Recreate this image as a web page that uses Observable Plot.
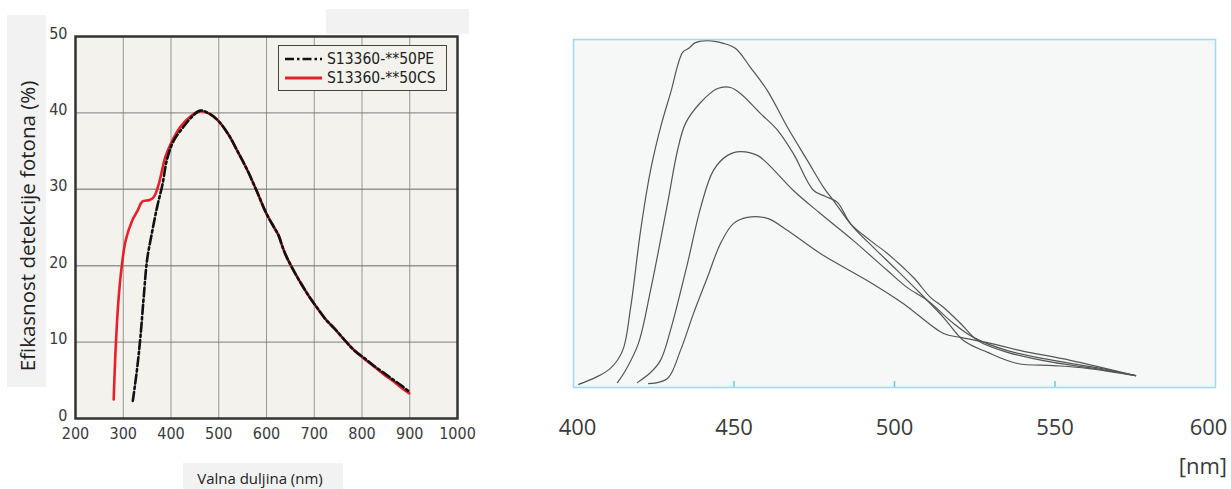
<!DOCTYPE html>
<html>
<head>
<meta charset="utf-8">
<script src="https://cdn.jsdelivr.net/npm/d3@7"></script>
<script src="https://cdn.jsdelivr.net/npm/@observablehq/plot@0.6"></script>
<style>
  html, body { margin: 0; padding: 0; background: #fff; }
  #page { position: relative; width: 1231px; height: 489px; overflow: hidden; background: #fff; }
  .abs { position: absolute; }
  .gbox { position: absolute; background: #f2f2f2; }
  svg.plot { max-width: none !important; background: transparent !important; }
</style>
</head>
<body>
<div id="page">
  <div class="gbox" style="left:7px; top:15px; width:39px; height:372px;"></div>
  <div class="gbox" style="left:326px; top:9px; width:143px; height:25px;"></div>
  <div class="gbox" style="left:183px; top:463px; width:160px; height:26px;"></div>
  <div id="left" class="abs" style="left:0; top:0;"></div>
  <div id="right" class="abs" style="left:540px; top:0;"></div>
  <div class="abs" style="left:27px; top:226px; transform: translate(-50%,-50%) rotate(-90deg); white-space:nowrap; font-family:'Open Sans',sans-serif; font-size:20.5px; color:#222;">Efikasnost detekcije fotona (%)</div>
  <div class="abs" style="left:260px; top:478px; transform: translate(-50%,-50%); white-space:nowrap; font-family:'Open Sans',sans-serif; font-size:15px; color:#222;">Valna duljina (nm)</div>
  <div class="abs" style="right:4px; top:465px; transform: translateY(-50%); white-space:nowrap; font-family:'Open Sans',sans-serif; font-size:22px; color:#3a3a3a;">[nm]</div>
  <div id="legend" class="abs" style="left:278px; top:45px; width:167px; height:44px; border:1px solid #444; background:#f3f2ec; font-family:'DejaVu Sans Condensed','DejaVu Sans',sans-serif; font-size:15.5px; color:#222;"></div>
</div>
<script>
// ---------- Left chart data (photon detection efficiency, %) ----------
const peWavelength = [320, 329, 336, 343, 350, 361, 371, 382, 392, 406, 424, 441, 461, 480, 500, 520, 540, 560, 580, 600, 616, 625, 635, 644, 660, 672, 690, 707, 725, 742, 763, 784, 805, 825, 845, 867, 885, 899];
const peEfficiency = [2.3, 6.5, 10.7, 16.0, 20.8, 24.6, 27.7, 30.6, 34.0, 36.4, 38.0, 39.3, 40.3, 39.9, 38.9, 37.2, 34.9, 32.5, 29.7, 26.8, 25.0, 24.0, 22.2, 20.9, 19.0, 17.7, 15.9, 14.4, 12.9, 11.8, 10.3, 8.9, 7.9, 6.9, 6.0, 5.0, 4.2, 3.5];
const csWavelength = [280, 284, 290, 297, 305, 318, 330, 340, 355, 364, 374, 388, 399, 420, 440, 460, 480, 500, 520, 540, 560, 580, 600, 616, 625, 635, 644, 660, 672, 690, 707, 725, 742, 763, 784, 805, 825, 845, 867, 885, 899];
const csEfficiency = [2.5, 9.0, 15.5, 20.0, 23.3, 25.8, 27.2, 28.4, 28.6, 29.0, 30.6, 34.2, 35.9, 38.2, 39.5, 40.2, 39.9, 38.9, 37.2, 34.9, 32.5, 29.7, 26.8, 25.0, 24.0, 22.2, 20.9, 19.0, 17.7, 15.9, 14.4, 12.9, 11.8, 10.3, 8.9, 7.8, 6.8, 5.8, 4.8, 3.9, 3.3];
const leftXTicks = [200, 300, 400, 500, 600, 700, 800, 900, 1000];
const leftYTicks = [0, 10, 20, 30, 40, 50];
const seriesNames = ["S13360-**50PE", "S13360-**50CS"];

// ---------- Right chart data (relative emission intensity) ----------
const c1Wavelength = [401.6, 406.9, 411.5, 415.3, 417.8, 420.9, 424.0, 427.1, 430.2, 434.0, 435.8, 438.0, 441.7, 446.7, 450.5, 455.1, 460.4, 466.7, 472.9, 477.9, 481.0, 487.2, 493.5, 500.9, 508.1, 515.3, 521.5, 529.0, 538.3, 549.5, 560.1, 575.1];
const c1Intensity  = [0.9, 2.9, 5.5, 10.6, 23.0, 45.1, 62.4, 74.7, 84.5, 96.3, 97.4, 99.1, 99.7, 98.9, 97.4, 92.0, 85.3, 74.7, 65.2, 57.5, 53.7, 46.0, 40.2, 33.6, 27.0, 20.1, 13.5, 10.1, 6.9, 6.3, 5.5, 3.4];
const c2Wavelength = [413.7, 416.2, 420.2, 424.0, 429.3, 432.4, 434.9, 439.6, 444.9, 448.9, 452.0, 458.3, 463.6, 468.5, 474.8, 478.5, 482.2, 486.3, 492.5, 497.8, 505.9, 511.2, 515.3, 520.6, 525.9, 535.2, 549.5, 564.2, 575.1];
const c2Intensity  = [1.4, 4.9, 12.6, 27.9, 52.9, 68.1, 75.9, 81.9, 85.9, 86.2, 84.5, 78.7, 73.9, 67.2, 56.6, 54.9, 53.2, 47.1, 42.2, 38.5, 31.6, 25.9, 23.0, 18.4, 13.5, 10.1, 7.2, 5.2, 3.4];
const c3Wavelength = [419.9, 424.0, 427.1, 430.2, 435.5, 439.6, 443.6, 448.0, 452.0, 457.3, 460.4, 468.5, 476.9, 487.2, 497.8, 504.0, 510.3, 518.4, 524.6, 535.2, 549.5, 564.2, 575.1];
const c3Intensity  = [1.4, 4.3, 7.8, 16.4, 35.6, 51.7, 62.4, 66.7, 67.8, 66.7, 64.4, 56.6, 50.0, 42.2, 33.6, 28.7, 25.0, 18.4, 14.4, 10.6, 7.8, 5.5, 3.4];
const c4Wavelength = [423.4, 429.3, 433.3, 437.4, 441.7, 445.8, 449.8, 454.2, 460.4, 466.7, 476.9, 492.5, 502.8, 515.3, 520.6, 529.0, 539.3, 554.8, 575.1];
const c4Intensity  = [1.1, 2.6, 10.6, 21.3, 31.6, 41.4, 47.1, 48.9, 48.6, 45.1, 38.5, 30.2, 24.1, 15.5, 14.4, 12.9, 10.6, 7.8, 3.4];
const rightXTicks = [400, 450, 500, 550, 600];
const rightInnerTicks = [450, 500, 550];

const toRows = (xs, ys, name) => xs.map((x, i) => ({x, y: ys[i], name}));
const plain = d => String(d);

// ---------- Left chart ----------
const peRows = toRows(peWavelength, peEfficiency, seriesNames[0]);
const csRows = toRows(csWavelength, csEfficiency, seriesNames[1]);
const leftFont = "'DejaVu Sans Condensed','DejaVu Sans',sans-serif";

const left = Plot.plot({
  width: 480, height: 450,
  marginLeft: 75, marginRight: 23, marginTop: 36, marginBottom: 32,
  style: {fontFamily: leftFont, fontSize: "16px", color: "#444", background: "transparent"},
  x: {domain: [200, 1000]},
  y: {domain: [0, 50]},
  marks: [
    Plot.frame({fill: "#f3f2ec"}),
    Plot.gridX(leftXTicks.slice(1, -1), {stroke: "#777", strokeOpacity: 0.75, strokeWidth: 1}),
    Plot.gridY(leftYTicks.slice(1, -1), {stroke: "#777", strokeOpacity: 0.75, strokeWidth: 1.4}),
    Plot.axisX(leftXTicks, {tickSize: 0, tickPadding: 9, label: null, fill: "#3a3a3a", tickFormat: plain}),
    Plot.axisY(leftYTicks, {tickSize: 0, tickPadding: 8, dy: -3, label: null, fill: "#3a3a3a", tickFormat: plain}),
    Plot.line(csRows, {x: "x", y: "y", stroke: "#e8202a", strokeWidth: 2.6, curve: "catmull-rom"}),
    Plot.line(peRows, {x: "x", y: "y", stroke: "#111", strokeWidth: 2.6, strokeDasharray: "9,3,2.5,3", curve: "catmull-rom"}),
    Plot.frame({stroke: "#333", strokeWidth: 2.5})
  ]
});
document.getElementById("left").appendChild(left);

// ---------- Legend ----------
const legend = document.getElementById("legend");
legend.innerHTML = `
  <div style="position:absolute; left:6px; top:4px; height:18px; display:flex; align-items:center;">
    <svg width="37" height="6" style="display:block"><line x1="0" y1="3" x2="37" y2="3" stroke="#111" stroke-width="2.6" stroke-dasharray="9,3,2.5,3"/></svg>
    <span style="margin-left:5px; white-space:nowrap;">${seriesNames[0]}</span>
  </div>
  <div style="position:absolute; left:6px; top:23px; height:18px; display:flex; align-items:center;">
    <svg width="37" height="6" style="display:block"><line x1="0" y1="3" x2="37" y2="3" stroke="#e8202a" stroke-width="2.8"/></svg>
    <span style="margin-left:5px; white-space:nowrap;">${seriesNames[1]}</span>
  </div>`;

// ---------- Right chart ----------
const rightRows = [
  ...toRows(c1Wavelength, c1Intensity, "c1"),
  ...toRows(c2Wavelength, c2Intensity, "c2"),
  ...toRows(c3Wavelength, c3Intensity, "c3"),
  ...toRows(c4Wavelength, c4Intensity, "c4")
];
const rightFont = "'Open Sans',sans-serif";
const right = Plot.plot({
  width: 691, height: 489,
  marginLeft: 33, marginRight: 16, marginTop: 39, marginBottom: 102,
  style: {fontFamily: rightFont, fontSize: "22px", color: "#3a3a3a", background: "transparent"},
  x: {domain: [400, 600]},
  y: {domain: [0, 100], axis: null},
  marks: [
    Plot.frame({fill: "#f6f7f7"}),
    Plot.axisX(rightXTicks.slice(0, 1), {tickSize: 0, tickPadding: 32, label: null, fill: "#3a3a3a", dx: 4, tickFormat: plain}),
    Plot.axisX(rightXTicks.slice(1, -1), {tickSize: 0, tickPadding: 32, label: null, fill: "#3a3a3a", tickFormat: plain}),
    Plot.axisX(rightXTicks.slice(-1), {tickSize: 0, tickPadding: 32, label: null, fill: "#3a3a3a", dx: -7, tickFormat: plain}),
    Plot.axisX(rightInnerTicks, {tickSize: -6, tickFormat: () => "", label: null, stroke: "#6cc4ec", strokeWidth: 1.5}),
    Plot.line(rightRows, {x: "x", y: "y", z: "name", stroke: "#555", strokeWidth: 1.2, curve: "catmull-rom"}),
    Plot.frame({stroke: "#a3daf2", strokeWidth: 1.6})
  ]
});
document.getElementById("right").appendChild(right);
</script>
</body>
</html>
